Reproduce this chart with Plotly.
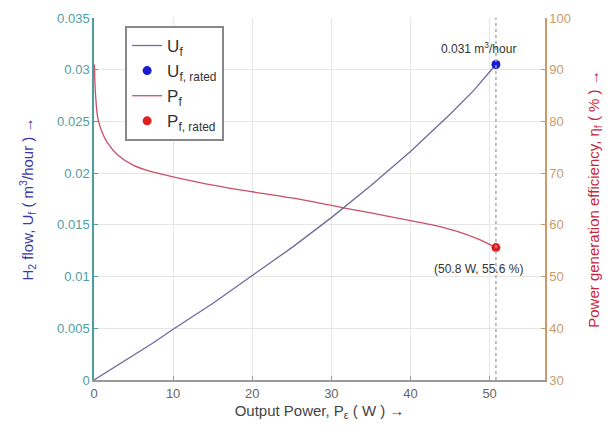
import plotly.graph_objects as go

# Data
uf_power = [0, 2.5, 5, 7.5, 10, 15, 20, 25, 30, 35, 40, 45, 48, 50.8]
uf_flow = [0, 0.0012, 0.0024, 0.0036, 0.0049, 0.0074, 0.0101, 0.0128, 0.0157, 0.0188, 0.0221, 0.0257, 0.0280, 0.0305]

pf_power = [0.05, 0.2, 0.5, 1, 1.65, 3, 5, 7.5, 10, 15, 20, 25, 31.5, 35, 40, 43, 46, 48.5, 50.8]
pf_eff = [91, 85, 80.5, 78, 76, 73.5, 71.5, 70.2, 69.3, 67.7, 66.4, 65.2, 63.3, 62.3, 60.8, 59.9, 58.7, 57.3, 55.6]

rated_power = 50.8
rated_flow = 0.0305
rated_eff = 55.6

left_tickvals = [0, 0.005, 0.01, 0.015, 0.02, 0.025, 0.03, 0.035]
left_ticktext = ["0", "0.005", "0.01", "0.015", "0.02", "0.025", "0.03", "0.035"]
right_tickvals = [30, 40, 50, 60, 70, 80, 90, 100]
x_tickvals = [0, 10, 20, 30, 40, 50]

teal = "#4f9e9e"
tan = "#c99a6a"
uf_color = "#6c6c9c"
pf_color = "#c8506a"

fig = go.Figure()
fig.add_trace(go.Scatter(x=uf_power, y=uf_flow, mode="lines", line=dict(color=uf_color, width=1.3),
                         name="U<sub>f</sub>", yaxis="y"))
fig.add_trace(go.Scatter(x=[rated_power], y=[rated_flow], mode="markers",
                         marker=dict(color="#1a1ad0", size=9), name="U<sub>f, rated</sub>", yaxis="y"))
fig.add_trace(go.Scatter(x=pf_power, y=pf_eff, mode="lines", line=dict(color=pf_color, width=1.3, shape="spline"),
                         name="P<sub>f</sub>", yaxis="y2"))
fig.add_trace(go.Scatter(x=[rated_power], y=[rated_eff], mode="markers",
                         marker=dict(color="#e02020", size=9), name="P<sub>f, rated</sub>", yaxis="y2"))

fig.add_shape(type="line", x0=rated_power, x1=rated_power, y0=0, y1=1, xref="x", yref="paper",
              line=dict(color="#aaaaaa", width=1.5, dash="dot"))

fig.add_annotation(x=rated_power, y=rated_flow, xref="x", yref="y", text="0.031 m<sup>3</sup>/hour",
                   showarrow=False, yshift=17, xshift=-17, font=dict(size=12, color="#333333"))
fig.add_annotation(x=rated_power, y=rated_eff, xref="x", yref="y2", text="(50.8 W, 55.6 %)",
                   showarrow=False, yshift=-21, xshift=-17, font=dict(size=12, color="#333333"))

fig.update_layout(
    width=613, height=433,
    margin=dict(l=94, r=68, t=18, b=53),
    plot_bgcolor="white", paper_bgcolor="white",
    font=dict(family="Liberation Sans, Arial, sans-serif", size=13),
    showlegend=True,
    legend=dict(x=0.069, y=0.978, xanchor="left", yanchor="top", bgcolor="white",
                bordercolor="#888888", borderwidth=2, font=dict(size=17, color="#333333"),
                tracegroupgap=0, itemwidth=30),
    xaxis=dict(range=[0, 57], tickvals=x_tickvals, showgrid=True, gridcolor="#e6e6e6",
               showline=True, linecolor="#999999", linewidth=2, ticks="inside", ticklen=4,
               tickcolor="#999999", tickfont=dict(color="#666666", size=13), zeroline=False,
               mirror=False,
               title=dict(text="Output Power, P<sub>ε</sub> ( W ) →", font=dict(size=15, color="#444444"), standoff=6)),
    yaxis=dict(range=[0, 0.035], tickvals=left_tickvals, ticktext=left_ticktext, showgrid=True,
               gridcolor="#e6e6e6", showline=True, linecolor=teal, linewidth=1.5, ticks="inside",
               ticklen=4, tickcolor=teal, tickfont=dict(color=teal, size=13), zeroline=False,
               title=dict(text="H<sub>2</sub> flow, U<sub>f</sub> ( m<sup>3</sup>/hour ) →",
                          font=dict(size=15, color="#3a3aa8"), standoff=20)),
    yaxis2=dict(range=[30, 100], tickvals=right_tickvals, overlaying="y", side="right", showgrid=False,
                showline=True, linecolor=tan, linewidth=1.5, ticks="inside", ticklen=4, tickcolor=tan,
                tickfont=dict(color=tan, size=13), zeroline=False,
                title=dict(text="Power generation efficiency, η<sub>f</sub> ( % ) →",
                           font=dict(size=15, color="#c8283c"), standoff=18)),
)

fig.write_html("out.html")
